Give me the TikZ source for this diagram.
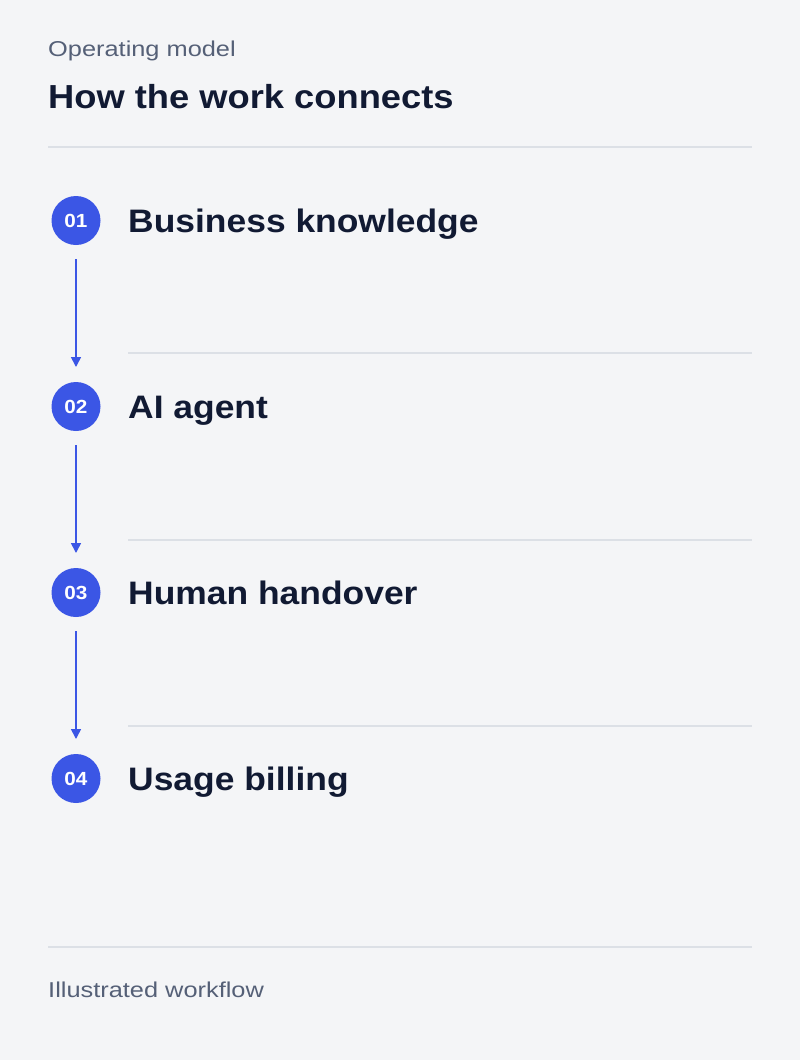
\documentclass[tikz,border=0pt]{standalone}
\usepackage{fontspec}
\setmainfont{Liberation Sans}
\newfontfamily\regfont[FakeStretch=1.18]{Liberation Sans}
\newfontfamily\headfont[FakeStretch=1.09]{Liberation Sans}
\usetikzlibrary{arrows.meta}
\definecolor{bg}{HTML}{F4F5F7}
\definecolor{ink}{HTML}{111A33}
\definecolor{muted}{HTML}{556077}
\definecolor{rule}{HTML}{DCE0E6}
\definecolor{accent}{HTML}{3B56E5}
\tikzset{
  x=1pt, y=-1pt,
  divider/.style={draw=rule, line width=1.5pt},
  badge/.style={circle, fill=accent, minimum size=49pt, inner sep=0pt, text=white, font=\headfont\fontsize{19}{20}\selectfont\bfseries},
  steplabel/.style={anchor=base west, inner sep=0pt, text=ink, font=\headfont\fontsize{32.5}{36}\selectfont\bfseries},
  flow/.style={draw=accent, line width=1.6pt, -{Triangle[length=10pt,width=10pt]}},
  caption/.style={anchor=base west, inner sep=0pt, text=muted, font=\regfont\fontsize{21.5}{24}\selectfont},
}
\begin{document}
\begin{tikzpicture}
\fill[bg] (0,0) rectangle (800,1060);
\useasboundingbox (0,0) rectangle (800,1060);
\node[caption] (kicker) at (48,56.5) {Operating model};
\node[anchor=base west, inner sep=0pt, text=ink, font=\headfont\fontsize{33.3}{38}\selectfont\bfseries] (title) at (48,108) {How the work connects};
\coordinate (r0a) at (48,147); \coordinate (r0b) at (752,147);
\draw[divider] (r0a) -- (r0b);

\node[badge] (b1) at (76,220.5) {01};
\node[badge] (b2) at (76,406.5) {02};
\node[badge] (b3) at (76,592.5) {03};
\node[badge] (b4) at (76,778.5) {04};

\node[steplabel] (s1) at (128,232) {Business knowledge};
\node[steplabel] (s2) at (128,418) {AI agent};
\node[steplabel] (s3) at (128,604) {Human handover};
\node[steplabel] (s4) at (128,790) {Usage billing};

\coordinate (a1s) at (76,259); \coordinate (a1e) at (76,367);
\coordinate (a2s) at (76,445); \coordinate (a2e) at (76,553);
\coordinate (a3s) at (76,631); \coordinate (a3e) at (76,739);
\draw[flow] (a1s) -- (a1e);
\draw[flow] (a2s) -- (a2e);
\draw[flow] (a3s) -- (a3e);

\coordinate (r1a) at (128,353); \coordinate (r1b) at (752,353);
\coordinate (r2a) at (128,540); \coordinate (r2b) at (752,540);
\coordinate (r3a) at (128,726); \coordinate (r3b) at (752,726);
\draw[divider] (r1a) -- (r1b);
\draw[divider] (r2a) -- (r2b);
\draw[divider] (r3a) -- (r3b);

\coordinate (r4a) at (48,947); \coordinate (r4b) at (752,947);
\draw[divider] (r4a) -- (r4b);
\node[caption] (foot) at (48,997) {Illustrated workflow};
\end{tikzpicture}
\end{document}
